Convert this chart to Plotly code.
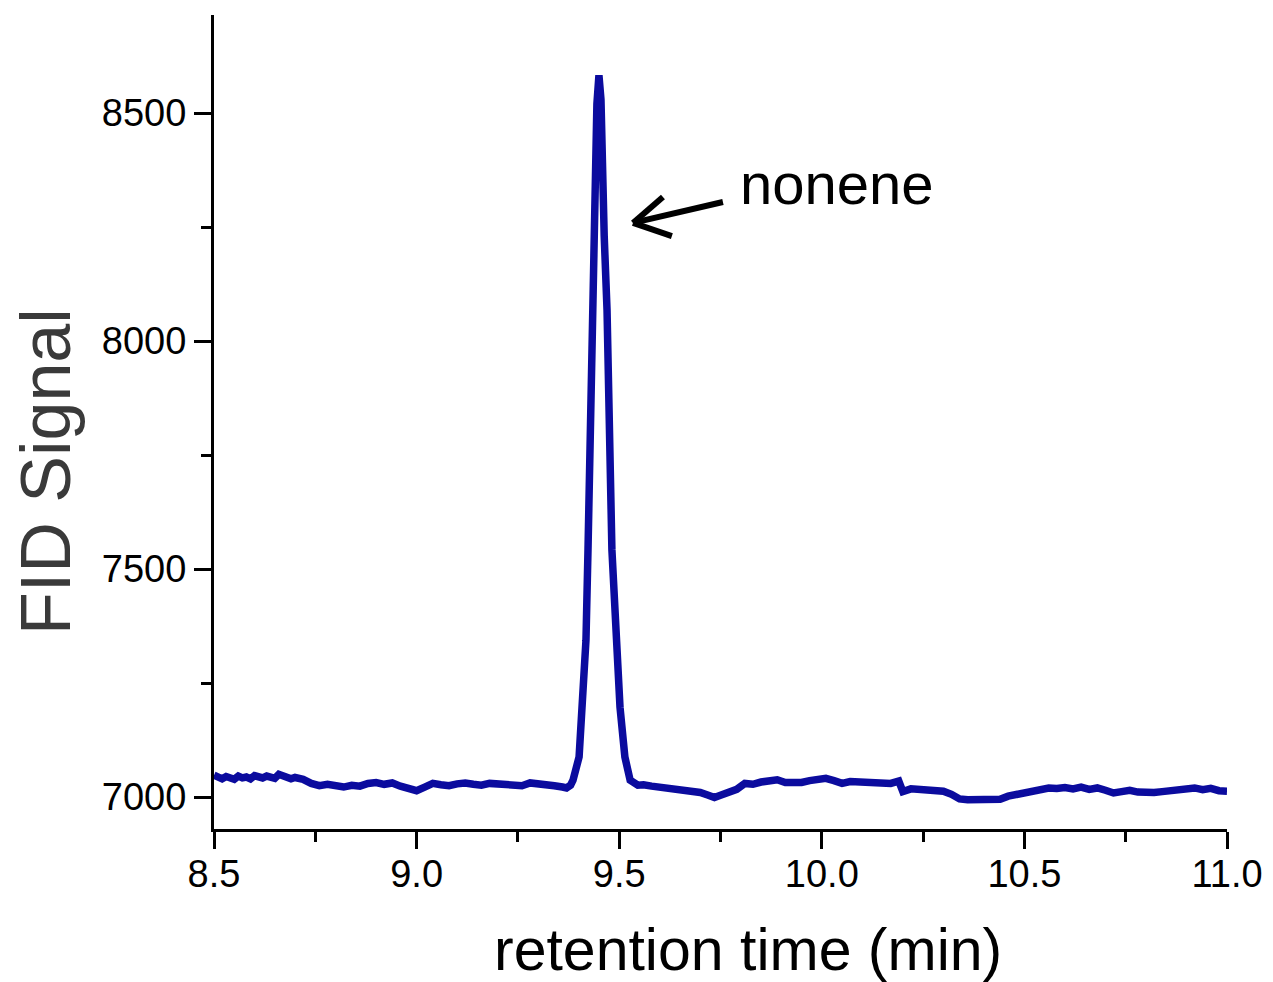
import plotly.graph_objects as go

# retention time (min) and FID signal
time_min = [
    8.50, 8.51, 8.52, 8.53, 8.54, 8.55, 8.56, 8.57, 8.58, 8.59,
    8.60, 8.61, 8.62, 8.63, 8.64, 8.65, 8.66, 8.67, 8.68, 8.69,
    8.70, 8.72, 8.74, 8.76, 8.78, 8.80, 8.82, 8.84, 8.86, 8.88,
    8.90, 8.92, 8.94, 8.96, 8.98, 9.00, 9.02, 9.04, 9.06, 9.08,
    9.10, 9.12, 9.14, 9.16, 9.18, 9.20, 9.22, 9.24, 9.26, 9.28,
    9.30, 9.32, 9.34, 9.36, 9.37, 9.38,
    9.386, 9.401, 9.408, 9.418, 9.423, 9.433, 9.437, 9.445, 9.450,
    9.455, 9.463, 9.470, 9.482, 9.492, 9.502, 9.514, 9.527, 9.546,
    9.56, 9.58, 9.60, 9.62, 9.64, 9.66, 9.68, 9.70, 9.72, 9.735,
    9.75, 9.77, 9.79, 9.81, 9.83, 9.85, 9.87, 9.89, 9.91, 9.93,
    9.95, 9.97, 9.99, 10.01, 10.03, 10.05, 10.07, 10.09, 10.11, 10.13,
    10.15, 10.17, 10.19, 10.20, 10.22, 10.24, 10.26, 10.28, 10.30, 10.32,
    10.34, 10.36, 10.38, 10.40, 10.42, 10.44, 10.46, 10.48, 10.50, 10.52,
    10.54, 10.56, 10.58, 10.60, 10.62, 10.64, 10.66, 10.68, 10.70, 10.72,
    10.74, 10.76, 10.78, 10.80, 10.82, 10.84, 10.86, 10.88, 10.90, 10.92,
    10.94, 10.96, 10.98, 11.00,
]
fid_signal = [
    7048, 7044, 7040, 7045, 7043, 7039, 7046, 7042, 7044, 7040,
    7047, 7043, 7042, 7046, 7045, 7041, 7050, 7046, 7044, 7040,
    7043, 7039, 7030, 7025, 7028, 7024, 7022, 7026, 7024, 7030,
    7032, 7028, 7031, 7024, 7018, 7014, 7022, 7030, 7027, 7025,
    7029, 7031, 7028, 7026, 7030, 7029, 7026, 7024, 7025, 7031,
    7030, 7027, 7025, 7022, 7020, 7026,
    7037, 7088, 7197, 7344, 7542, 8068, 8250, 8520, 8583,
    8530, 8230, 8068, 7542, 7344, 7197, 7088, 7037, 7026,
    7027, 7024, 7022, 7018, 7019, 7013, 7014, 7010, 7004, 6999,
    7004, 7011, 7017, 7030, 7028, 7033, 7036, 7038, 7032, 7030,
    7032, 7036, 7040, 7041, 7036, 7030, 7034, 7033, 7035, 7031,
    7030, 7030, 7035, 7012, 7018, 7016, 7017, 7015, 7013, 7006,
    6996, 6994, 6995, 6993, 6996, 6995, 7002, 7006, 7012, 7015,
    7018, 7020, 7019, 7021, 7018, 7022, 7017, 7020, 7015, 7009,
    7012, 7015, 7011, 7009, 7010, 7012, 7014, 7015, 7018, 7020,
    7016, 7019, 7014, 7013,
]

x_ticks = [8.5, 9.0, 9.5, 10.0, 10.5, 11.0]
x_tick_labels = ["8.5", "9.0", "9.5", "10.0", "10.5", "11.0"]
y_ticks = [7000, 7500, 8000, 8500]
y_tick_labels = ["7000", "7500", "8000", "8500"]

peak_label = "nonene"
x_title = "retention time (min)"
y_title = "FID Signal"

# arrow geometry (data units): tip, tail and the two barbs
arrow_tip = (9.534, 8259)
arrow_tail = (9.756, 8305)
arrow_barbs = [(9.608, 8316), (9.630, 8230)]

FONT = "Liberation Sans, Arial, sans-serif"

fig = go.Figure()
fig.add_trace(go.Scatter(
    x=time_min, y=fid_signal, mode="lines",
    line=dict(color="#0b0b9e", width=7.5),
    showlegend=False, hoverinfo="skip",
))

axis_common = dict(
    showgrid=False, zeroline=False, showline=True,
    linecolor="black", linewidth=3,
    ticks="outside", ticklen=17, tickwidth=3, tickcolor="black",
    tickfont=dict(family=FONT, size=38, color="black"),
)

fig.update_xaxes(
    range=[8.5, 11.0], tickvals=x_ticks, ticktext=x_tick_labels,
    minor=dict(ticks="outside", ticklen=10, tickwidth=3, tickcolor="black", dtick=0.25, tick0=8.5),
    ticklabelstandoff=-8,
    **axis_common,
)
fig.update_yaxes(
    range=[6930, 8715], tickvals=y_ticks, ticktext=y_tick_labels,
    minor=dict(ticks="outside", ticklen=10, tickwidth=3, tickcolor="black", dtick=250, tick0=7000),
    **axis_common,
)

# arrow pointing at the peak, drawn as line segments
for end in [arrow_tail] + arrow_barbs:
    fig.add_shape(
        type="line", xref="x", yref="y",
        x0=arrow_tip[0], y0=arrow_tip[1], x1=end[0], y1=end[1],
        line=dict(color="black", width=6),
    )

fig.add_annotation(
    x=(738 - 214) / 1013, y=(829 - 184) / 814, xref="paper", yref="paper",
    text=peak_label, showarrow=False, xanchor="left", yanchor="middle",
    font=dict(family=FONT, size=58, color="black"),
)
fig.add_annotation(
    x=(748 - 214) / 1013, y=(829 - 950) / 814, xref="paper", yref="paper",
    text=x_title, showarrow=False, xanchor="center", yanchor="middle",
    font=dict(family=FONT, size=59, color="black"),
)
fig.add_annotation(
    x=(46 - 214) / 1013, y=(829 - 472) / 814, xref="paper", yref="paper",
    text=y_title, showarrow=False, xanchor="center", yanchor="middle",
    textangle=-90,
    font=dict(family=FONT, size=70, color="#3a3a3a"),
)

# page body adds an 8px offset, so the figure is 8px smaller
fig.update_layout(
    width=1265, height=974,
    margin=dict(l=206, r=46, t=7, b=153, autoexpand=False),
    paper_bgcolor="white", plot_bgcolor="white",
)

fig.write_html("out.html")
